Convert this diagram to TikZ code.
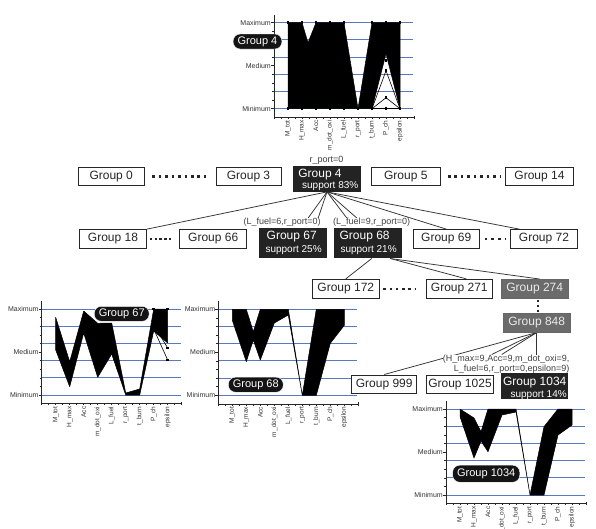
\documentclass[tikz,border=0pt]{standalone}
\usepackage{fontspec}
\setmainfont{Liberation Sans}
\usetikzlibrary{calc}
\definecolor{gridblue}{HTML}{5A78BE}
\definecolor{darkbox}{HTML}{232323}
\definecolor{graybox}{HTML}{6B6B6B}
\definecolor{labgray}{HTML}{333333}
\pgfdeclarelayer{bg}
\pgfdeclarelayer{edges}
\pgfsetlayers{bg,edges,main}
\tikzset{
 wbox/.style={draw=black!85, line width=0.9pt, fill=white, inner sep=0pt, minimum height=18.5pt, font=\fontsize{12}{12}\selectfont, text=black!85},
 dbox/.style={fill=darkbox, inner sep=0pt},
 gbox/.style={fill=graybox, draw=black!60, line width=0.5pt, inner sep=0pt, minimum height=19pt, text=white!92!black, font=\fontsize{12}{12}\selectfont},
 dtitle/.style={text=white, inner sep=0pt, font=\fontsize{12}{12}\selectfont},
 dsupp/.style={text=white, inner sep=0pt, font=\fontsize{10}{10}\selectfont, anchor=east},
 elabel/.style={inner sep=0pt, fill=white, font=\fontsize{9}{10}\selectfont, text=black!75},
 edge/.style={draw=black!80, line width=0.75pt},
 dotline/.style={line width=2.6pt, draw=black!85},
 pill/.style={fill=black!92, draw=white, line width=0.4pt, text=white, rounded corners=7pt, inner xsep=4.5pt, inner ysep=0pt, minimum height=15pt, font=\fontsize{11}{11}\selectfont},
 axlab/.style={inner sep=0pt, font=\fontsize{7}{7}\selectfont, text=labgray, anchor=east},
 varlab/.style={inner sep=0pt, font=\fontsize{6.5}{6.5}\selectfont, text=labgray, rotate=90, anchor=east},
 gridline/.style={draw=gridblue, line width=0.9pt},
 axisline/.style={draw=black!85, line width=0.8pt},
 databand/.style={fill=black, draw=black, line width=0.5pt, line join=round},
 strand/.style={draw=black, line width=0.6pt},
}
\newcommand{\PCaxes}[1]{%
  \foreach \k in {0,...,5} {\draw[gridline] (0,{17.2*\k}) -- (139,{17.2*\k});}
  \draw[axisline] (0,-8) -- (0,94.6) -- (140,94.6) -- (140,93);
  \foreach \k in {0,...,10} {\draw[axisline, line width=0.5pt] (-2,{8.6*\k}) -- (0,{8.6*\k});}
  \foreach \k in {0,...,20} {\draw[axisline, line width=0.5pt] ({7*\k},94.6) -- ({7*\k},96.4);}
  \foreach \k in {0,43,86} {\draw[axisline, line width=0.5pt] (-3,\k) -- (0,\k);}
  \node[axlab] (#1max) at (-3,0) {Maximum};
  \node[axlab] (#1med) at (-3,43) {Medium};
  \node[axlab] (#1min) at (-3,86) {Minimum};
  \foreach \lab [count=\i] in {M\_tot,H\_max,Acc,m\_dot\_oxi,L\_fuel,r\_port,t\_burn,P\_ch,epsilon} {\node[varlab] (#1v\i) at ({14*\i},97.5) {\lab};}
}
\newcommand{\sqmark}[2]{\fill[black] ({#1-1.3},{#2-1.3}) rectangle ({#1+1.3},{#2+1.3});}
\begin{document}
\begin{tikzpicture}[x=1pt,y=-1pt]
\useasboundingbox (0,0) rectangle (596,528);
\begin{pgfonlayer}{bg}
\fill[white] (0,0) rectangle (596,528);
\end{pgfonlayer}
\clip (0,0) rectangle (596,528);

% ---------- top chart (Group 4)
\begin{scope}[shift={(274,22.7)}]
\PCaxes{tc}
\filldraw[databand] (14,0) -- (28,0) -- (34,20) -- (42,0) -- (56,0) -- (70,0) -- (84,86) -- (98,0) -- (112,0) -- (126,0) -- (126,86) -- (112,31) -- (98,86) -- (84,86) -- (70,86) -- (56,86) -- (42,86) -- (28,86) -- (14,86) -- cycle;
\draw[strand] (98,86) -- (112,48) -- (126,86);
\draw[strand] (98,86) -- (112,75) -- (126,86);
\draw[strand] (98,86) -- (112,86) -- (126,86);
\foreach \xx in {14,28,42,56,70,84,98,112,126} {\sqmark{\xx}{86}}
\foreach \xx in {14,28,42,56,70,98,112,126} {\sqmark{\xx}{0}}
\sqmark{112}{48}\sqmark{112}{75}\sqmark{112}{38}
\end{scope}
\node[pill] (p4) at (257.5,41.5) {Group 4};

% ---------- chart Group 67
\begin{scope}[shift={(41.7,309)}]
\PCaxes{ca}
\filldraw[databand] (14,8.3) -- (28,52.7) -- (42,2) -- (56,14.3) -- (70,14) -- (84,84) -- (98,80) -- (112,0) -- (126,0) -- (126,34) -- (112,22) -- (98,86) -- (84,86) -- (70,45) -- (56,68.3) -- (42,24) -- (28,77.7) -- (14,41) -- cycle;
\draw[strand] (112,20) -- (126,51);
\draw[strand] (112,16) -- (126,39);
\sqmark{126}{51}\sqmark{126}{39}\sqmark{112}{0}\sqmark{126}{0}
\end{scope}
\node[pill] (p67) at (121.7,313.8) {Group 67};

% ---------- chart Group 68
\begin{scope}[shift={(218.3,309.3)}]
\PCaxes{cb}
\filldraw[databand] (14,0) -- (28,0) -- (35,22.4) -- (42,0) -- (56,0) -- (70,0) -- (84,86) -- (98,0) -- (112,0) -- (126,0) -- (126,16) -- (112,34) -- (98,86) -- (84,86) -- (70,5.7) -- (56,13.7) -- (42,50.7) -- (35,30.7) -- (28,52.4) -- (14,11) -- cycle;
\end{scope}
\node[pill] (p68) at (255.8,384.7) {Group 68};

% ---------- chart Group 1034
\begin{scope}[shift={(446,409)}]
\PCaxes{cc}
\filldraw[databand] (14,0) -- (28,9) -- (35,22.7) -- (42,0) -- (56,0) -- (70,0) -- (84,86) -- (98,17.7) -- (112,0) -- (126,0) -- (126,16) -- (112,26) -- (98,86) -- (84,86) -- (70,3) -- (56,6) -- (42,42.7) -- (35,32) -- (28,49) -- (14,7.7) -- cycle;
\end{scope}
\node[pill, minimum height=17pt] (p1034) at (486.2,473.7) {Group 1034};

% ---------- tree row 1
\node[wbox, minimum width=65.7pt] (g0) at (111.2,176.2) {Group 0};
\node[wbox, minimum width=65pt] (g3) at (248.5,176.2) {Group 3};
\node[dbox, minimum width=67.4pt, minimum height=26.2pt] (g4) at (327,178.6) {};
\node[dtitle] (g4t) at ($(g4.north)+(-7,9.5)$) {Group 4};
\node[dsupp] (g4s) at ($(g4.north east)+(-2.4,21)$) {support 83\%};
\node[wbox, minimum width=68.3pt] (g5) at (405.8,176.2) {Group 5};
\node[wbox, minimum width=67.6pt] (g14) at (539.5,176.2) {Group 14};
\node[elabel] (la4) at (326.5,160.5) {r\_port=0};

% ---------- tree row 2
\node[wbox, minimum width=67.4pt] (g18) at (113,238.8) {Group 18};
\node[wbox, minimum width=67pt] (g66) at (213.2,238.8) {Group 66};
\node[dbox, minimum width=67.4pt, minimum height=30pt] (g67) at (293,243.3) {};
\node[dtitle] (g67t) at ($(g67.north)+(-1.3,8.4)$) {Group 67};
\node[dsupp] (g67s) at ($(g67.north east)+(-5,22.4)$) {support 25\%};
\node[dbox, minimum width=67.4pt, minimum height=30pt] (g68) at (368,243.3) {};
\node[dtitle] (g68t) at ($(g68.north)+(-3.4,8.4)$) {Group 68};
\node[dsupp] (g68s) at ($(g68.north east)+(-5,22.4)$) {support 21\%};
\node[wbox, minimum width=66.3pt] (g69) at (446.2,238.8) {Group 69};
\node[wbox, minimum width=66.6pt] (g72) at (544,238.8) {Group 72};
\node[elabel] (la67) at (282.2,222.3) {(L\_fuel=6,r\_port=0)};
\node[elabel] (la68) at (371.7,222.3) {(L\_fuel=9,r\_port=0)};

% ---------- tree row 3
\node[wbox, minimum width=66.3pt, minimum height=19pt] (g172) at (345.8,288.8) {Group 172};
\node[wbox, minimum width=66.7pt, minimum height=19pt] (g271) at (459.3,288.8) {Group 271};
\node[gbox, minimum width=67.3pt] (g274) at (534.7,288.8) {Group 274};
\node[gbox, minimum width=66.7pt] (g848) at (536.7,322.8) {Group 848};

% ---------- tree row 4
\node[elabel, align=right, anchor=north east] (la848) at (569.5,354.5) {(H\_max=9,Acc=9,m\_dot\_oxi=9,\\L\_fuel=6,r\_port=0,epsilon=9)};
\node[wbox, minimum width=65pt] (g999) at (384.2,384.2) {Group 999};
\node[wbox, minimum width=66.6pt] (g1025) at (460,384.2) {Group 1025};
\node[dbox, minimum width=67.3pt, minimum height=25.7pt] (g1034) at (534.7,386.2) {};
\node[dtitle] (g1034t) at ($(g1034.north)+(0,9.4)$) {Group 1034};
\node[dsupp] (g1034s) at ($(g1034.north east)+(-1.6,21.7)$) {support 14\%};

% ---------- connectors
\begin{pgfonlayer}{edges}
\draw[edge] (g4.south) -- (g18.north east);
\draw[edge] (g4.south) -- ($(la67.north)+(26,0)$);
\draw[edge] (g4.south) -- ($(la67.north)+(36,0)$);
\draw[edge] (g4.south) -- ($(la68.north)+(-25,0)$);
\draw[edge] (g4.south) -- ($(la68.north)+(-15,0)$);
\draw[edge] (g4.south) -- (g69.north);
\draw[edge] (g4.south) -- ($(g72.north west)+(9,0)$);
\draw[edge] ($(g68.south)+(3.7,0)$) -- (g172.north);
\draw[edge] ($(g68.south east)+(-11.7,0)$) -- ($(g271.north)+(7,0)$);
\draw[edge] ($(g68.south east)+(-11.7,0)$) -- ($(g274.north)+(5,0)$);
\draw[edge] (g848.south) -- (g999.north);
\draw[edge] (g848.south) -- ($(la848.north east)+(-77.8,0)$);
\draw[edge] (g848.south) -- ($(la848.north east)+(-67.8,0)$);
\draw[edge] (g848.south) -- (g848.south |- la848.north);
\end{pgfonlayer}

% ---------- dotted separators
\draw[dotline, dash pattern=on 2.6pt off 3.86pt, shorten <=7.7pt, shorten >=10pt] (g0.east) -- (g3.west);
\draw[dotline, dash pattern=on 2.6pt off 3.88pt, shorten <=7.5pt, shorten >=4pt] (g5.east) -- (g14.west);
\draw[dotline, dash pattern=on 2.6pt off 2.25pt, shorten <=2.5pt, shorten >=8.5pt] (g18.east) -- (g66.west);
\draw[dotline, dash pattern=on 2.6pt off 3.98pt, shorten <=5pt, shorten >=4pt] (g69.east) -- (g72.west);
\draw[dotline, dash pattern=on 2.6pt off 3.62pt, shorten <=4pt, shorten >=9.3pt] (g172.east) -- (g271.west);
\draw[dotline, line width=2.4pt, dash pattern=on 2.4pt off 2.4pt, shorten <=1.5pt, shorten >=1.5pt] ($(g274.south)+(3,0)$) -- ($(g274.south |- g848.north)+(3,0)$);
\end{tikzpicture}
\end{document}
